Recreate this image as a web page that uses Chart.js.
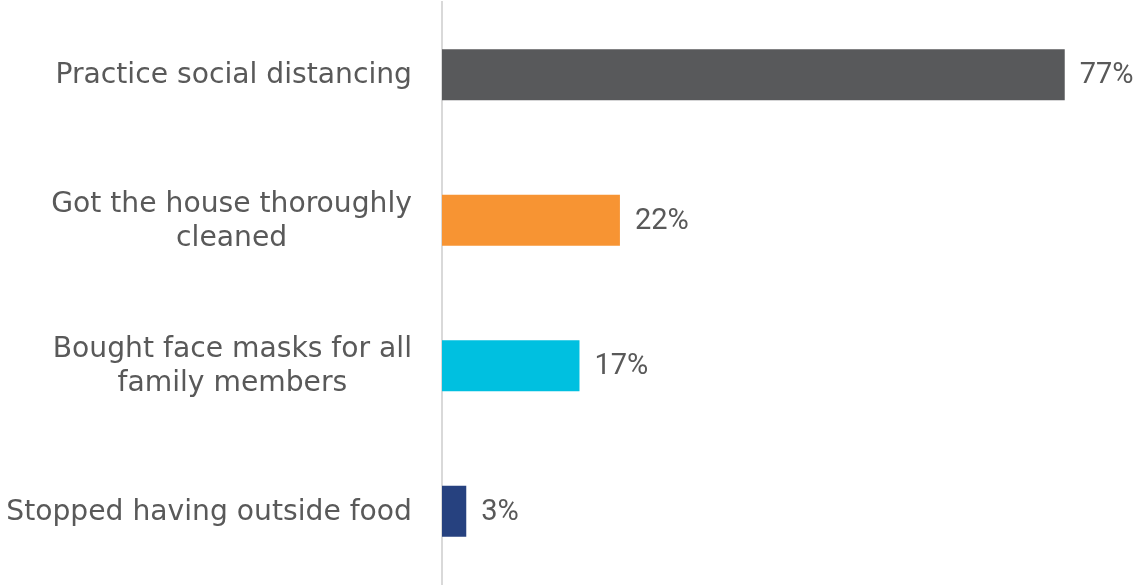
<!DOCTYPE html>
<html lang="en">
<head>
  <meta charset="UTF-8">
  <script src="https://cdn.jsdelivr.net/npm/chart.js"></script>
  <style>
    html, body { margin: 0; padding: 0; background: #fff; }
    .box { width: 1135px; height: 585px; position: relative; }
  </style>
</head>
<body>
<div class="box"><canvas id="grafico"></canvas></div>
<script>
const categorias = [
  ['Practice social distancing'],
  ['Got the house thoroughly', 'cleaned'],
  ['Bought face masks for all', 'family members'],
  ['Stopped having outside food']
];
const valores = [77, 22, 17, 3];
const cores = ['#58595b', '#f79433', '#00c0e0', '#26417f'];

// nomes das categorias, alinhados a direita com linhas centralizadas
const rotulosCategorias = {
  id: 'rotulosCategorias',
  afterDraw(chart) {
    const ctx = chart.ctx;
    const y = chart.scales.y;
    ctx.save();
    ctx.font = '28.2px "DejaVu Sans"';
    ctx.fillStyle = '#595959';
    ctx.textAlign = 'center';
    ctx.textBaseline = 'middle';
    const direita = 412;
    const alturaLinha = 34;
    categorias.forEach((linhas, i) => {
      const larg = Math.max(...linhas.map(l => ctx.measureText(l).width));
      const cx = direita - larg / 2;
      const cy = y.getPixelForValue(i) + 1;
      const inicio = cy - (linhas.length - 1) * alturaLinha / 2;
      linhas.forEach((l, k) => ctx.fillText(l, cx, inicio + k * alturaLinha));
    });
    ctx.restore();
  }
};

// valores no fim das barras
const rotulosValores = {
  id: 'rotulosValores',
  afterDatasetsDraw(chart) {
    const ctx = chart.ctx;
    const meta = chart.getDatasetMeta(0);
    ctx.save();
    ctx.font = '29px Roboto';
    ctx.fillStyle = '#595959';
    ctx.textAlign = 'left';
    ctx.textBaseline = 'middle';
    meta.data.forEach((barra, i) => {
      ctx.fillText(valores[i] + '%', barra.x + 15, barra.y + 1);
    });
    ctx.restore();
  }
};

new Chart(document.getElementById('grafico'), {
  type: 'bar',
  data: {
    labels: categorias,
    datasets: [{
      data: valores,
      backgroundColor: cores,
      borderWidth: 0,
      categoryPercentage: 1,
      barPercentage: 0.35
    }]
  },
  options: {
    indexAxis: 'y',
    responsive: true,
    maintainAspectRatio: false,
    animation: false,
    layout: { padding: { top: 2, bottom: 1, right: 46, left: 0 } },
    plugins: { legend: { display: false }, tooltip: { enabled: false } },
    scales: {
      x: { display: false, min: 0, max: 80 },
      y: {
        ticks: { display: false },
        grid: { drawOnChartArea: false, drawTicks: false },
        border: { color: '#d9d9d9', width: 2 },
        afterFit: s => { s.width = 442; }
      }
    }
  },
  plugins: [rotulosCategorias, rotulosValores]
});
</script>
</body>
</html>
